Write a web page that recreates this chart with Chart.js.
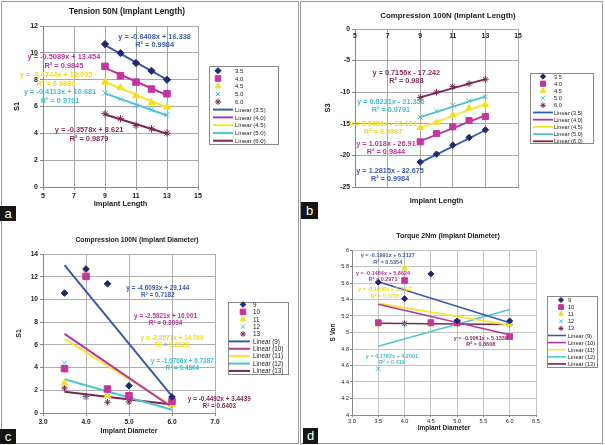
<!DOCTYPE html>
<html><head><meta charset="utf-8">
<script src="https://cdn.jsdelivr.net/npm/chart.js@4/dist/chart.umd.min.js"></script>
<style>
html,body{margin:0;padding:0;background:#fff}
body{width:605px;height:445px;overflow:hidden;position:relative;font-family:'Liberation Sans',Arial,sans-serif}
.frame{position:absolute;border:1px solid #9a9a9a;box-sizing:border-box}
.cv{position:absolute}
.tag{position:absolute;background:#151515;color:#fff;font:13px 'Liberation Sans',Arial,sans-serif;text-align:center;z-index:3}
</style></head><body>
<div class="frame" style="left:1px;top:1px;width:298px;height:443px"></div>
<div class="frame" style="left:300px;top:1px;width:303px;height:443px"></div>
<div class="cv" style="left:2px;top:2px;width:295px;height:217px"><canvas id="ca"></canvas></div>
<div class="cv" style="left:302px;top:2px;width:299px;height:218px"><canvas id="cb"></canvas></div>
<div class="cv" style="left:2px;top:221px;width:295px;height:221px"><canvas id="cc"></canvas></div>
<div class="cv" style="left:302px;top:221px;width:299px;height:221px"><canvas id="cd"></canvas></div>
<div class="tag" style="left:0;top:206px;width:16px;height:15px;line-height:15px">a</div>
<div class="tag" style="left:301px;top:202px;width:17px;height:17px;line-height:17px">b</div>
<div class="tag" style="left:0;top:429px;width:16px;height:15px;line-height:15px">c</div>
<div class="tag" style="left:303px;top:428px;width:15px;height:16px;line-height:16px">d</div>
<script>
// ---------------- DATA ----------------
const lengthX = [9, 10, 11, 12, 13];
const diameterX = [3.5, 4.0, 4.5, 5.0, 6.0];
const diameterNames = ['3.5', '4.0', '4.5', '5.0', '6.0'];
const lengthNames = ['9', '10', '11', '12', '13'];

// (a) Tension 50N (Implant Length) - S1, one row per diameter
const tensionS1 = [
  [10.65, 9.98, 9.24, 8.66, 7.99],
  [8.99, 8.29, 7.82, 7.30, 6.95],
  [7.82, 7.42, 6.80, 6.30, 5.96],
  [7.00, 6.56, 6.06, 5.76, 5.39],
  [5.46, 5.09, 4.59, 4.34, 4.02]
];
const tensionSlope = [-0.6408, -0.5089, -0.4744, -0.4113, -0.3578];
const tensionIntercept = [16.338, 13.454, 12.095, 10.681, 8.621];
const tensionEq = ['y = -0.6408x + 16.338', 'y = -0.5089x + 13.454', 'y = -0.4744x + 12.095', 'y = -0.4113x + 10.681', 'y = -0.3578x + 8.621'];
const tensionR2 = ['R² = 0.9984', 'R² = 0.9845', 'R² = 0.9869', 'R² = 0.9791', 'R² = 0.9879'];

// (b) Compression 100N (Implant Length) - S3
const compLenS3 = [
  [-21.06, -19.80, -18.37, -17.17, -15.96],
  [-17.85, -16.54, -15.48, -14.49, -13.85],
  [-15.60, -14.80, -13.60, -12.50, -12.00],
  [-13.95, -12.95, -12.05, -11.37, -10.74],
  [-10.85, -10.00, -9.12, -8.64, -7.95]
];
const compLenSlope = [1.2815, 1.018, 0.9480, 0.8221, 0.7156];
const compLenIntercept = [-32.675, -26.91, -24.191, -21.356, -17.242];
const compLenEq = ['y = 1.2815x - 32.675', 'y = 1.018x - 26.91', 'y = 0.9480x - 24.191', 'y = 0.8221x - 21.356', 'y = 0.7156x - 17.242'];
const compLenR2 = ['R² = 0.9984', 'R² = 0.9844', 'R² = 0.9987', 'R² = 0.9791', 'R² = 0.988'];

// (c) Compression 100N (Implant Diameter) - S1, one row per length
const compDiaS1 = [
  [10.56, 12.68, 11.38, 2.40, 1.41],
  [3.90, 12.03, 2.11, 1.52, 1.02],
  [2.64, 12.62, 1.52, 1.50, 0.73],
  [4.40, 1.35, 1.45, 1.40, 0.80],
  [2.20, 1.46, 0.95, 0.98, 0.88]
];
const compDiaSlope = [-4.6093, -2.5821, -2.3571, -1.0766, -0.4492];
const compDiaIntercept = [29.144, 16.001, 14.769, 6.7387, 3.4439];
const compDiaEq = ['y = -4.6093x + 29.144', 'y = -2.5821x + 16.001', 'y = -2.3571x + 14.769', 'y = -1.0766x + 6.7387', 'y = -0.4492x + 3.4439'];
const compDiaR2 = ['R² = 0.7182', 'R² = 0.3034', 'R² = 0.2129', 'R² = 0.4864', 'R² = 0.6403'];

// (d) Torque 2Nm (Implant Diameter) - S Von
const torqueSVon = [
  [5.61, 5.41, 5.71, 5.14, 5.14],
  [5.12, 5.63, 5.12, 5.12, 4.95],
  [5.10, 5.78, 5.10, 5.10, 5.10],
  [4.56, 5.10, 5.10, 5.10, 5.10],
  [5.11, 5.11, 5.11, 5.10, 5.10]
];
const torqueSlope = [-0.1991, -0.1484, -0.1056, 0.1782, -0.0061];
const torqueIntercept = [6.3127, 5.8624, 5.7227, 4.2091, 5.1339];
const torqueEq = ['y = -0.1991x + 6.3127', 'y = -0.1484x + 5.8624', 'y = -0.1056x + 5.7227', 'y = 0.1782x + 4.2091', 'y = -0.0061x + 5.1339'];
const torqueR2 = ['R² = 0.5354', 'R² = 0.2971', 'R² = 0.1155', 'R² = 0.412', 'R² = 0.6608'];

// ---------------- STYLE ----------------
const FONT = "'Liberation Sans', Arial, sans-serif";
const MARKER = ['#1f2a6e', '#c4369e', '#f2e21c', '#43c3d6', '#7b2452'];
const LINE = ['#3a5aa8', '#b8379a', '#f4e536', '#4fc4d2', '#7e2453'];
const TEXT = ['#3d5eab', '#b8379a', '#eedb1a', '#45bfd0', '#8a2b5b'];
const STYLES = ['rectRot', 'rect', 'triangle', 'crossRot', 'star'];

const decor = {
  id: 'decor',
  afterDraw(chart, args, o) {
    const ctx = chart.ctx, sx = chart.scales.x, sy = chart.scales.y;
    ctx.save();
    ctx.textAlign = 'center'; ctx.textBaseline = 'middle';
    ctx.fillStyle = '#1a1a1a';
    ctx.font = 'bold ' + o.titleSize + 'px ' + FONT;
    ctx.fillText(o.title, o.titleX, o.titleY);
    ctx.font = 'bold ' + o.eqSize + 'px ' + FONT;
    o.eq.forEach((t, i) => {
      const px = sx.getPixelForValue(o.eqPos[i][0]);
      const py = sy.getPixelForValue(o.eqPos[i][1]);
      ctx.fillStyle = TEXT[i];
      ctx.fillText(t, px, py);
      ctx.fillText(o.r2[i], px, py + o.eqGap);
    });
    // legend
    const L = o.legend;
    ctx.strokeStyle = '#8a8a8a'; ctx.lineWidth = 1;
    ctx.strokeRect(L.box[0] + 0.5, L.box[1] + 0.5, L.box[2], L.box[3]);
    ctx.textAlign = 'left';
    ctx.font = L.font + 'px ' + FONT;
    const labels = o.names.concat(o.names.map(n => 'Linear (' + n + ')'));
    labels.forEach((lab, k) => {
      const y = L.y0 + k * L.step;
      const i = k % 5;
      if (k < 5) {
        ctx.fillStyle = MARKER[i]; ctx.strokeStyle = MARKER[i]; ctx.lineWidth = 1;
        Chart.helpers.drawPoint(ctx, {pointStyle: STYLES[i], radius: o.mr[i] * 0.85, borderWidth: 1, rotation: 0}, L.mx, y);
      } else {
        ctx.strokeStyle = LINE[i]; ctx.lineWidth = o.lw;
        ctx.beginPath(); ctx.moveTo(L.lx[0], y); ctx.lineTo(L.lx[1], y); ctx.stroke();
      }
      ctx.fillStyle = '#222';
      ctx.fillText(lab, L.tx, y + 0.5);
    });
    ctx.restore();
  }
};

function build(id, p) {
  const ds = [];
  p.values.forEach((vals, i) => ds.push({
    label: p.names[i], xAxisID: 'x', yAxisID: 'y',
    data: p.xs.map((x, j) => ({x: x, y: vals[j]})),
    showLine: false, pointStyle: STYLES[i], pointRadius: p.mr[i],
    backgroundColor: MARKER[i], borderColor: MARKER[i], borderWidth: 1
  }));
  const x0 = Math.min(...p.xs), x1 = Math.max(...p.xs);
  p.slopes.forEach((m, i) => ds.push({
    label: 'Linear (' + p.names[i] + ')', xAxisID: 'x', yAxisID: 'y',
    data: [{x: x0, y: m * x0 + p.intercepts[i]}, {x: x1, y: m * x1 + p.intercepts[i]}],
    showLine: true, pointRadius: 0, borderColor: LINE[i], borderWidth: p.lw, fill: false
  }));
  const tickFont = {family: FONT, size: p.tickSize, weight: p.tickWeight};
  const axTitleFont = {family: FONT, size: p.axSize, weight: 'bold'};
  const tl = p.tickLen || 3, tp = (p.tickPad === undefined) ? 2 : p.tickPad;
  const scales = {
    x: {
      type: 'linear', axis: 'x', position: 'bottom', min: p.xMin, max: p.xMax,
      ticks: {stepSize: p.xStep, display: !p.topTicks, font: tickFont, color: '#222', padding: tp, maxRotation: 0, callback: p.xFmt},
      grid: {color: p.gridColor, lineWidth: 1, drawTicks: !p.topTicks, tickLength: tl, tickColor: '#888'},
      border: {color: '#888'},
      title: {display: true, text: p.xTitle, font: axTitleFont, color: '#1a1a1a', padding: {top: 0, bottom: p.xTitlePad}},
      afterFit: s => { s.height = p.xH; }
    },
    y: {
      type: 'linear', axis: 'y', position: 'left', min: p.yMin, max: p.yMax,
      ticks: {stepSize: p.yStep, font: tickFont, color: '#222', padding: tp, callback: p.yFmt},
      grid: {color: p.gridColor, lineWidth: 1, drawTicks: true, tickLength: tl, tickColor: '#888'},
      border: {color: '#888'},
      title: {display: true, text: p.yTitle, font: axTitleFont, color: '#1a1a1a', padding: {top: p.yTitlePad, bottom: 0}},
      afterFit: s => { s.width = p.yW; }
    }
  };
  if (p.topTicks) {
    scales.x2 = {
      type: 'linear', axis: 'x', position: {y: p.yMax}, min: p.xMin, max: p.xMax,
      ticks: {stepSize: p.xStep, font: tickFont, color: '#222', padding: p.topPad, maxRotation: 0, callback: p.xFmt},
      grid: {display: false, drawTicks: false},
      border: {display: false}
    };
  }
  return new Chart(document.getElementById(id), {
    type: 'scatter',
    data: {datasets: ds},
    options: {
      responsive: true, maintainAspectRatio: false, animation: false,
      layout: {padding: {left: 0, top: p.top, right: p.right, bottom: 0}},
      scales: scales,
      plugins: {
        legend: {display: false}, tooltip: {enabled: false},
        decor: {
          title: p.title, titleX: p.titleXY[0], titleY: p.titleXY[1], titleSize: p.titleSize,
          eq: p.eq, r2: p.r2, eqPos: p.eqPos, eqGap: p.eqGap, eqSize: p.eqSize,
          names: p.names, mr: p.mr, lw: p.lw, legend: p.legend
        }
      }
    },
    plugins: [decor]
  });
}

const fmtInt = v => String(v);
const fmt1 = v => v.toFixed(1);
const fmtTrim = v => String(Math.round(v * 10) / 10);

build('ca', {
  xs: lengthX, names: diameterNames, values: tensionS1, slopes: tensionSlope, intercepts: tensionIntercept,
  eq: tensionEq, r2: tensionR2,
  xMin: 5, xMax: 15, xStep: 2, yMin: 0, yMax: 12, yStep: 2, xFmt: fmtInt, yFmt: fmtInt,
  xTitle: 'Implant Length', yTitle: 'S1', title: 'Tension 50N (Implant Length)',
  yW: 41, xH: 32, top: 24, right: 99, xTitlePad: 10.5, yTitlePad: 10.5,
  tickSize: 7, tickWeight: 'bold', axSize: 7.5, titleSize: 8.3, titleXY: [125, 10],
  gridColor: '#a8a8a8', mr: [3.6, 4.6, 4, 3.6, 3.6], lw: 2,
  eqPos: [[12.2, 11.2], [6.35, 9.69], [5.84, 8.35], [6.1, 7.08], [7.97, 4.25]], eqGap: 8.5, eqSize: 7.4,
  legend: {box: [207, 64, 69, 78], mx: 216, lx: [211, 231], tx: 233, y0: 68.7, step: 7.78, font: 6}
});

build('cb', {
  xs: lengthX, names: diameterNames, values: compLenS3, slopes: compLenSlope, intercepts: compLenIntercept,
  eq: compLenEq, r2: compLenR2,
  xMin: 5, xMax: 15, xStep: 2, yMin: -25, yMax: 0, yStep: 5, xFmt: fmtInt, yFmt: fmtInt,
  xTitle: 'Implant Length', yTitle: 'S3', title: 'Compression 100N (Implant Length)',
  yW: 53, xH: 33, top: 27, right: 83, xTitlePad: 14.5, yTitlePad: 21.5, topTicks: true, topPad: 3,
  tickSize: 6.8, tickWeight: 'bold', axSize: 7.5, titleSize: 7.9, titleXY: [146, 14],
  gridColor: '#a8a8a8', mr: [3.2, 4.3, 3.7, 3.3, 3.3], lw: 1.8,
  eqPos: [[7.15, -22.47], [6.9, -18.2], [6.72, -15.03], [7.2, -11.55], [8.15, -6.96]], eqGap: 8, eqSize: 7.3,
  legend: {box: [228, 71, 63, 70], mx: 241, lx: [231, 251], tx: 252, y0: 74.5, step: 7.2, font: 5.6}
});

build('cc', {
  xs: diameterX, names: lengthNames, values: compDiaS1, slopes: compDiaSlope, intercepts: compDiaIntercept,
  eq: compDiaEq, r2: compDiaR2,
  xMin: 3, xMax: 7, xStep: 1, yMin: 0, yMax: 14, yStep: 2, xFmt: fmt1, yFmt: fmtInt,
  xTitle: 'Implant Diameter', yTitle: 'S1', title: 'Compression 100N (implant Diameter)',
  yW: 41, xH: 29, top: 33, right: 82, xTitlePad: 6.5, yTitlePad: 12.5,
  tickSize: 6.6, tickWeight: 'bold', axSize: 7, titleSize: 6.8, titleXY: [135, 19],
  gridColor: '#b0b0b0', mr: [3.3, 4.6, 3.7, 3.5, 3.2], lw: 2,
  eqPos: [[5.67, 11.0], [5.85, 8.54], [6.0, 6.6], [6.24, 4.58], [7.1, 1.23]], eqGap: 7, eqSize: 6.4,
  legend: {box: [226, 81, 60, 72], mx: 241, lx: [227, 248], tx: 251, y0: 83.5, step: 7.38, font: 6.3}
});

build('cd', {
  xs: diameterX, names: lengthNames, values: torqueSVon, slopes: torqueSlope, intercepts: torqueIntercept,
  eq: torqueEq, r2: torqueR2,
  xMin: 3, xMax: 6.5, xStep: 0.5, yMin: 4, yMax: 6, yStep: 0.2, xFmt: fmt1, yFmt: fmtTrim,
  xTitle: 'Implant Diameter', yTitle: 'S Von', title: 'Torque 2Nm (Implant Diameter)',
  yW: 50, xH: 27, top: 29, right: 65, xTitlePad: 9.5, yTitlePad: 27, tickLen: 2, tickPad: 1,
  tickSize: 5.6, tickWeight: 'normal', axSize: 6.5, titleSize: 7, titleXY: [146, 15],
  gridColor: '#c4c4c4', mr: [3, 4, 3.3, 3, 3], lw: 1.6,
  eqPos: [[3.68, 5.93], [3.59, 5.72], [3.63, 5.52], [3.76, 4.715], [5.45, 4.93]], eqGap: 6.5, eqSize: 5.5,
  legend: {box: [245, 75, 50, 71], mx: 259, lx: [246, 264], tx: 266, y0: 79, step: 7.1, font: 5.6}
});
</script>
</body></html>
